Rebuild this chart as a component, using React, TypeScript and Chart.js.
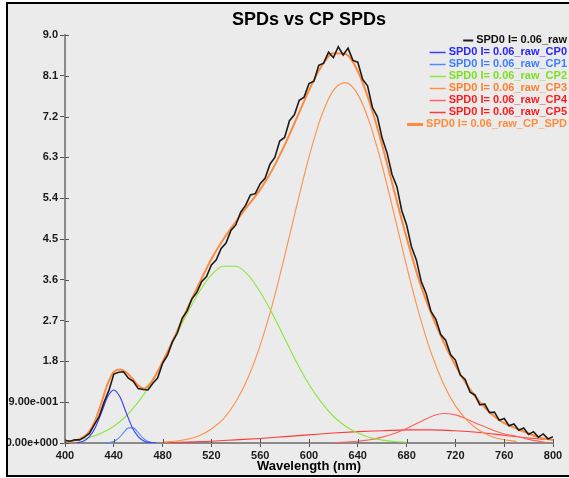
import { useEffect, useRef } from 'react';
import { Chart, registerables } from 'chart.js';

Chart.register(...registerables);

const TITLE = 'SPDs vs CP SPDs';
const X_TITLE = 'Wavelength (nm)';
const X_TICKS = [400, 440, 480, 520, 560, 600, 640, 680, 720, 760, 800];
const Y_TICKS = [0, 0.9, 1.8, 2.7, 3.6, 4.5, 5.4, 6.3, 7.2, 8.1, 9.0];
const Y_TICK_LABELS = ['0.00e+000', '9.00e-001', '1.8', '2.7', '3.6', '4.5', '5.4', '6.3', '7.2', '8.1', '9.0'];

const SERIES_LABELS = [
  'SPD0 I= 0.06_raw',
  'SPD0 I= 0.06_raw_CP0',
  'SPD0 I= 0.06_raw_CP1',
  'SPD0 I= 0.06_raw_CP2',
  'SPD0 I= 0.06_raw_CP3',
  'SPD0 I= 0.06_raw_CP4',
  'SPD0 I= 0.06_raw_CP5',
  'SPD0 I= 0.06_raw_CP_SPD',
];
const LINE_COLORS = ['#1c1c1c', '#3a3aff', '#4f8dff', '#8ae83a', '#ff9048', '#ff6262', '#ff3a3a', '#ff8a3d'];
const TEXT_COLORS = ['#111111', '#2626ff', '#3d7fff', '#7ee024', '#ff8130', '#ff1c1c', '#ff1c1c', '#ff8c3c'];

// raw spectrum (every 4 nm)
const RAW_NM = [
  400, 404, 408, 412, 416, 420, 424, 428, 432, 436,
  440, 444, 448, 452, 456, 460, 464, 468, 472, 476,
  480, 484, 488, 492, 496, 500, 504, 508, 512, 516,
  520, 524, 528, 532, 536, 540, 544, 548, 552, 556,
  560, 564, 568, 572, 576, 580, 584, 588, 592, 596,
  600, 604, 608, 612, 616, 620, 624, 628, 632, 636,
  640, 644, 648, 652, 656, 660, 664, 668, 672, 676,
  680, 684, 688, 692, 696, 700, 704, 708, 712, 716,
  720, 724, 728, 732, 736, 740, 744, 748, 752, 756,
  760, 764, 768, 772, 776, 780, 784, 788, 792, 796,
  800,
];
const RAW_VAL = [
  0.06, 0.04, 0.07, 0.07, 0.13, 0.21, 0.40, 0.58, 0.90, 1.16,
  1.52, 1.56, 1.57, 1.43, 1.36, 1.20, 1.18, 1.17, 1.32, 1.44,
  1.76, 1.93, 2.23, 2.42, 2.75, 2.91, 3.18, 3.32, 3.56, 3.67,
  3.93, 4.04, 4.29, 4.41, 4.69, 4.81, 5.09, 5.24, 5.47, 5.50,
  5.72, 5.84, 6.15, 6.30, 6.66, 6.74, 7.11, 7.24, 7.56, 7.63,
  7.93, 7.98, 8.33, 8.38, 8.62, 8.50, 8.74, 8.56, 8.71, 8.44,
  8.40, 8.02, 7.88, 7.40, 7.20, 6.72, 6.40, 5.93, 5.66, 5.13,
  4.81, 4.33, 4.04, 3.56, 3.30, 2.90, 2.73, 2.39, 2.27, 1.95,
  1.83, 1.50, 1.40, 1.12, 1.06, 0.84, 0.86, 0.67, 0.68, 0.50,
  0.54, 0.38, 0.42, 0.28, 0.33, 0.19, 0.25, 0.13, 0.20, 0.09,
  0.14,
];

const CP0_NM = [410, 415, 420, 425, 430, 435, 440, 445, 450, 455, 460, 465, 470, 475];
const CP0_VAL = [0.01, 0.04, 0.14, 0.35, 0.68, 1.02, 1.17, 1.02, 0.68, 0.35, 0.14, 0.04, 0.01, 0.0];

const CP1_NM = [432, 436, 440, 444, 448, 452, 456, 460, 464, 468, 472, 476];
const CP1_VAL = [0.001, 0.008, 0.034, 0.107, 0.229, 0.334, 0.334, 0.229, 0.107, 0.034, 0.008, 0.001];

const CP2_NM = [415, 420, 430, 440, 450, 460, 470, 480, 490, 500, 510, 520, 530, 540, 550, 560, 570, 580, 590, 600, 610, 620, 630, 640, 650, 660, 670, 680];
const CP2_VAL = [0.09, 0.12, 0.22, 0.37, 0.59, 0.90, 1.29, 1.77, 2.31, 2.85, 3.33, 3.71, 3.90, 3.90, 3.71, 3.33, 2.85, 2.31, 1.77, 1.29, 0.90, 0.59, 0.37, 0.22, 0.12, 0.064, 0.033, 0.015];

const CP3_NM = [480, 490, 500, 510, 520, 530, 540, 550, 560, 570, 580, 590, 600, 610, 620, 630, 640, 650, 660, 670, 680, 690, 700, 710, 720, 730, 740, 750, 760, 770];
const CP3_VAL = [0.018, 0.04, 0.083, 0.16, 0.31, 0.54, 0.91, 1.44, 2.16, 3.06, 4.12, 5.24, 6.31, 7.20, 7.78, 7.95, 7.69, 7.04, 6.11, 5.02, 3.90, 2.87, 2.00, 1.32, 0.82, 0.49, 0.27, 0.14, 0.072, 0.035];

const CP4_NM = [620, 640, 650, 660, 670, 680, 690, 700, 710, 720, 730, 740, 750, 760, 770, 780, 790, 795];
const CP4_VAL = [0.005, 0.04, 0.07, 0.13, 0.21, 0.32, 0.45, 0.58, 0.65, 0.62, 0.52, 0.40, 0.29, 0.20, 0.15, 0.08, 0.03, 0.01];

const CP5_NM = [480, 500, 520, 540, 560, 580, 600, 620, 640, 660, 680, 700, 720, 740, 760, 780, 800];
const CP5_VAL = [0.005, 0.02, 0.04, 0.07, 0.10, 0.14, 0.18, 0.22, 0.25, 0.27, 0.29, 0.29, 0.27, 0.23, 0.17, 0.11, 0.07];

const FIT_NM = [400, 405, 410, 415, 420, 425, 430, 435, 440, 445, 450, 455, 460, 465, 470, 475,
  480, 490, 500, 510, 520, 530, 540, 550, 560, 570, 580, 590, 600, 610, 620, 630, 640, 650, 660, 670, 680, 690, 700, 710, 720, 730, 740, 750, 760, 770, 780, 790, 800];
const FIT_VAL = [0.03, 0.04, 0.07, 0.13, 0.26, 0.51, 0.90, 1.31, 1.57, 1.62, 1.56, 1.43, 1.27, 1.20, 1.32, 1.53,
  1.79, 2.35, 2.95, 3.52, 4.06, 4.50, 4.88, 5.24, 5.59, 6.03, 6.57, 7.17, 7.78, 8.30, 8.60, 8.58, 8.20, 7.49, 6.57, 5.54, 4.53, 3.61, 2.87, 2.25, 1.71, 1.26, 0.90, 0.63, 0.44, 0.32, 0.21, 0.11, 0.07];

const FONT = '"Liberation Sans", Arial, sans-serif';

function zip(xs: number[], ys: number[]) {
  return xs.map((x, i) => ({ x, y: ys[i] }));
}

const innerTicks = {
  id: 'innerTicks',
  afterDraw(chart: any) {
    const { ctx, chartArea } = chart;
    const xs = chart.scales.x;
    const ys = chart.scales.y;
    ctx.save();
    ctx.strokeStyle = '#555';
    ctx.lineWidth = 1;
    ctx.beginPath();
    xs.ticks.forEach((t: any) => {
      const px = Math.round(xs.getPixelForValue(t.value)) + 0.5;
      ctx.moveTo(px, chartArea.bottom);
      ctx.lineTo(px, chartArea.bottom - 4);
    });
    ys.ticks.forEach((t: any) => {
      const py = Math.round(ys.getPixelForValue(t.value)) + 0.5;
      ctx.moveTo(chartArea.left, py);
      ctx.lineTo(chartArea.left + 4, py);
    });
    ctx.stroke();
    ctx.restore();
  },
};

const rightLegend = {
  id: 'rightLegend',
  afterDraw(chart: any) {
    const ctx = chart.ctx;
    ctx.save();
    ctx.font = `bold 11px ${FONT}`;
    ctx.textBaseline = 'middle';
    ctx.textAlign = 'right';
    const right = 559;
    chart.data.datasets.forEach((ds: any, i: number) => {
      const y = 36 + 12 * i;
      const w = ctx.measureText(ds.label).width;
      ctx.fillStyle = TEXT_COLORS[i];
      ctx.fillText(ds.label, right, y);
      const end = right - w - 3;
      const len = i === 0 ? 10 : 16;
      ctx.strokeStyle = LINE_COLORS[i];
      ctx.lineWidth = i === 7 ? 3 : i === 0 ? 2 : 1.5;
      ctx.beginPath();
      ctx.moveTo(end - len, y + 0.5);
      ctx.lineTo(end, y + 0.5);
      ctx.stroke();
    });
    ctx.restore();
  },
};

export default function App() {
  const ref = useRef<HTMLCanvasElement>(null);

  useEffect(() => {
    if (!ref.current) return;
    const series = [
      zip(RAW_NM, RAW_VAL),
      zip(CP0_NM, CP0_VAL),
      zip(CP1_NM, CP1_VAL),
      zip(CP2_NM, CP2_VAL),
      zip(CP3_NM, CP3_VAL),
      zip(CP4_NM, CP4_VAL),
      zip(CP5_NM, CP5_VAL),
      zip(FIT_NM, FIT_VAL),
    ];
    const datasets = series.map((data, i) => ({
      label: SERIES_LABELS[i],
      data,
      borderColor: LINE_COLORS[i],
      backgroundColor: LINE_COLORS[i],
      borderWidth: i === 0 ? 1.6 : i === 7 ? 2 : 1.1,
      pointRadius: 0,
      fill: false,
      tension: 0,
      cubicInterpolationMode: i === 0 ? 'default' : 'monotone',
      order: i === 0 ? 0 : i === 7 ? 1 : 2 + i,
    }));

    const chart = new Chart(ref.current, {
      type: 'line',
      data: { datasets } as any,
      plugins: [innerTicks, rightLegend],
      options: {
        animation: false,
        responsive: false,
        events: [],
        layout: { padding: { left: 0, right: 87, top: 0, bottom: 0 } },
        plugins: {
          legend: { display: false },
          tooltip: { enabled: false },
          title: {
            display: true,
            text: TITLE,
            fullSize: false,
            color: '#000',
            font: { family: FONT, size: 18, weight: 'bold' },
            padding: { top: 5, bottom: 4.4 },
          },
        },
        scales: {
          x: {
            type: 'linear',
            min: 400,
            max: 800,
            afterBuildTicks: (s: any) => { s.ticks = X_TICKS.map((v) => ({ value: v })); },
            afterFit: (s: any) => { s.height = 32; },
            border: { display: true, color: '#8a8a8a', width: 2 },
            grid: { display: true, drawOnChartArea: false, drawTicks: true, tickLength: 4, color: '#555' },
            ticks: {
              color: '#1a1a1a',
              padding: 2,
              maxRotation: 0,
              autoSkip: false,
              font: { family: FONT, size: 11, weight: 'bold' },
              callback: (v: any) => String(v),
            },
            title: {
              display: true,
              text: X_TITLE,
              color: '#000',
              font: { family: FONT, size: 13, weight: 'bold' },
              padding: { top: 0, bottom: 1 },
            },
          },
          y: {
            type: 'linear',
            min: 0,
            max: 9,
            afterBuildTicks: (s: any) => { s.ticks = Y_TICKS.map((v) => ({ value: v })); },
            afterFit: (s: any) => { s.width = 57; },
            border: { display: true, color: '#8a8a8a', width: 2 },
            grid: { display: true, drawOnChartArea: false, drawTicks: true, tickLength: 5, color: '#555' },
            ticks: {
              color: '#1a1a1a',
              padding: 2,
              autoSkip: false,
              font: { family: FONT, size: 11, weight: 'bold' },
              callback: (_v: any, i: number) => Y_TICK_LABELS[i],
            },
          },
        },
      } as any,
    });
    return () => chart.destroy();
  }, []);

  return (
    <div style={{ position: 'fixed', inset: 0, overflow: 'hidden', background: '#ffffff' }}>
      <div
        style={{
          position: 'absolute',
          left: 6,
          top: 2,
          width: 632,
          height: 471,
          border: '2px solid #000',
          background: '#ebebeb',
        }}
      >
        <canvas ref={ref} width={632} height={471} style={{ display: 'block', width: 632, height: 471 }} />
      </div>
    </div>
  );
}
